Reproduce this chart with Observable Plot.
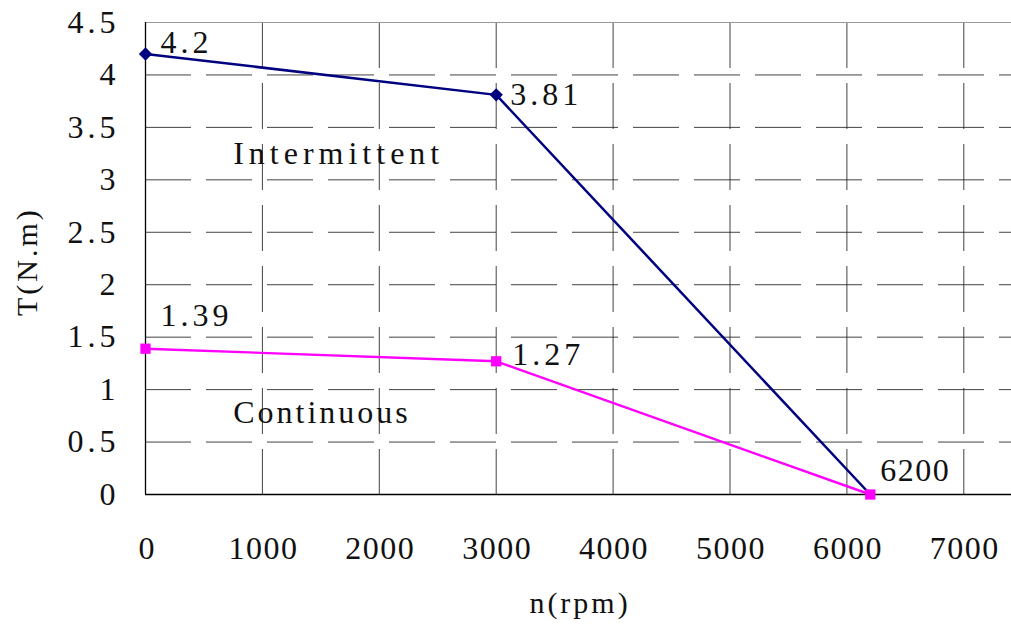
<!DOCTYPE html>
<html>
<head>
<meta charset="utf-8">
<script src="https://cdn.jsdelivr.net/npm/d3@7"></script>
<script src="https://cdn.jsdelivr.net/npm/@observablehq/plot@0.6"></script>
<style>
  html, body { margin: 0; padding: 0; background: #fff; }
  #chart svg { display: block; }
</style>
</head>
<body>
<div id="chart"></div>
<script>
// Data
const speed = [0, 3000, 6200];                 // n (rpm)
const intermittent = [4.2, 3.81, 0];           // T (N.m)
const continuous = [1.39, 1.27, 0];            // T (N.m)

const xTicks = [0, 1000, 2000, 3000, 4000, 5000, 6000, 7000];
const xTickLabels = ["0", "1000", "2000", "3000", "4000", "5000", "6000", "7000"];
const yTicks = [0, 0.5, 1, 1.5, 2, 2.5, 3, 3.5, 4, 4.5];
const yTickLabels = ["0", "0.5", "1", "1.5", "2", "2.5", "3", "3.5", "4", "4.5"];

const regionNames = ["Intermittent", "Continuous"];
const regionX = [750, 750];
const regionY = [3.25, 0.78];

const interRows = speed.map((n, i) => ({n, t: intermittent[i]}));
const contRows = speed.map((n, i) => ({n, t: continuous[i]}));

const FONT = "'Liberation Serif', 'DejaVu Serif', serif";
const FS = 32;
const INK = "#111";

const one = [0];
const valueLabel = (x, y, text, dx, dy) =>
  Plot.text(one, {x: () => x, y: () => y, text: () => text, dx, dy, textAnchor: "start", lineAnchor: "middle",
    fontSize: FS, fill: INK});

const chart = Plot.plot({
  width: 1011,
  height: 624,
  marginLeft: 145,
  marginRight: 0,
  marginTop: 22,
  marginBottom: 130,
  style: {fontFamily: FONT, background: "#fff", overflow: "visible"},
  x: {domain: [0, 7408], axis: null},
  y: {domain: [0, 4.5], axis: null},
  marks: [
    // grid
    Plot.ruleX(xTicks.filter(d => d > 0), {stroke: "#222", strokeWidth: 1, strokeOpacity: 0.85, strokeDasharray: "46,15"}),
    Plot.ruleY(yTicks.filter(d => d > 0 && d < 4.5), {stroke: "#222", strokeWidth: 1, strokeOpacity: 0.85, strokeDasharray: "46,15"}),
    Plot.ruleY([4.5], {stroke: "#999", strokeWidth: 1.2}),
    // axes lines
    Plot.ruleX([0], {stroke: "#000", strokeWidth: 1.3}),
    Plot.ruleY([0], {stroke: "#000", strokeWidth: 1.3}),
    // tick labels
    Plot.text(xTicks, {x: d => d, y: () => 0, text: (d, i) => xTickLabels[i], dx: 1, dy: 54, fontSize: FS, fill: INK, textAnchor: "middle", lineAnchor: "middle"}),
    Plot.text(yTicks, {x: () => 0, y: d => d, text: (d, i) => yTickLabels[i], dx: -30, fontSize: FS, fill: INK, textAnchor: "end", lineAnchor: "middle"}),
    // axis titles
    Plot.text(one, {x: () => 0, y: () => 2.22, text: () => "T(N.m)", rotate: -90, dx: -118, fontSize: 30, fill: INK, lineAnchor: "middle"}),
    Plot.text(one, {x: () => 3700, y: () => 0, text: () => "n(rpm)", dx: 2, dy: 109, fontSize: 30, fill: INK, lineAnchor: "middle"}),
    // lines
    Plot.line(contRows, {x: "n", y: "t", stroke: "#ff00ff", strokeWidth: 2.4}),
    Plot.line(interRows, {x: "n", y: "t", stroke: "#000080", strokeWidth: 2.5}),
    Plot.dot(interRows.slice(0, 2), {x: "n", y: "t", symbol: "diamond2", r: 6, fill: "#000080", stroke: "none"}),
    Plot.dot(contRows, {x: "n", y: "t", symbol: "square", r: 5.8, fill: "#ff00ff", stroke: "none"}),
    // value labels
    valueLabel(speed[0], intermittent[0], String(intermittent[0]), 15, -11),
    valueLabel(speed[1], intermittent[1], String(intermittent[1]), 14, 0),
    valueLabel(speed[0], continuous[0], String(continuous[0]), 15, -33),
    valueLabel(speed[1], continuous[1], String(continuous[1]), 16, -7),
    valueLabel(speed[2], continuous[2], String(speed[2]), 10, -24),
    // region labels
    Plot.text(regionNames, {x: (d, i) => regionX[i], y: (d, i) => regionY[i], text: d => d, textAnchor: "start", lineAnchor: "middle", fontSize: FS, fill: INK})
  ]
});
// widen the text to imitate the half-width monospaced face of the original
chart.querySelectorAll("text").forEach(t => {
  const s = t.textContent;
  let ls = 0;
  if (s === "Intermittent") ls = 5;
  else if (s === "Continuous") ls = 3;
  else if (s === "T(N.m)" || s === "n(rpm)") ls = 3;
  else if (s.includes(".")) ls = 4;
  else if (s.length === 4) ls = 1.5;
  if (ls) {
    t.style.letterSpacing = ls + "px";
    const g = t.closest("g[text-anchor]");
    const anchor = g ? g.getAttribute("text-anchor") : "start";
    if (anchor === "end") t.setAttribute("dx", ls);
    else if (anchor === "middle") t.setAttribute("dx", ls / 2);
  }
});
document.getElementById("chart").appendChild(chart);
</script>
</body>
</html>
